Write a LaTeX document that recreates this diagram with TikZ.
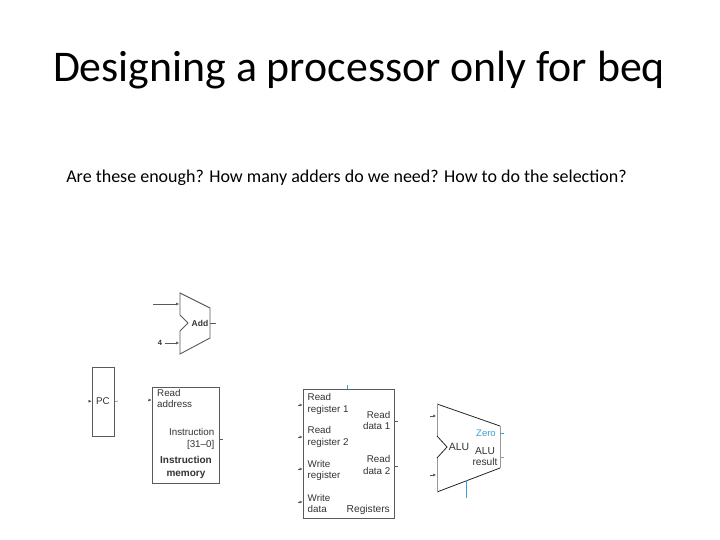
\documentclass[tikz,border=0pt]{standalone}
\usepackage{fontspec}
\setmainfont{Carlito}
\newfontfamily\figfont{Liberation Sans}
\definecolor{ctrlblue}{RGB}{60,160,210}
\definecolor{figgray}{RGB}{90,90,90}
\tikzset{
  block/.style={draw=figgray,fill=white,line width=0.8pt,inner sep=0pt},
  lbl/.style={font=\figfont\fontsize{9.8}{11.8}\selectfont,text=black!80,inner sep=0pt,align=left},
  lblr/.style={lbl,align=right},
  stub/.style={draw=figgray,line width=0.5pt},
  tick/.style={stub,-{Latex[length=3pt,width=3pt]}},
  unit/.style={draw=figgray,line width=0.9pt},
}
\usetikzlibrary{arrows.meta}

\begin{document}
\begin{tikzpicture}[x=1pt,y=-1pt]
\useasboundingbox (0,0) rectangle (720,540);
\fill[white] (0,0) rectangle (720,540);
\node[inner sep=0pt] (title) at (359,70) {\fontsize{43.8}{48}\selectfont Designing a processor only for beq};
\node[inner sep=0pt] (question) at (346.5,178) {\fontsize{18}{22}\selectfont Are these enough? How many adders do we need? How to do the selection?};

% adder
\draw[unit] (180,293) coordinate (addtl) -- (210,308) coordinate (addtr) -- (210,338) coordinate (addbr) -- (180,354) coordinate (addbl)
  -- (180,331) -- (188,323) coordinate (addnotch) -- (180,315) -- cycle;
\node[lbl,font=\figfont\bfseries\fontsize{8.5}{10}\selectfont] (addlabel) at (200,323) {Add};
\node[lbl,font=\figfont\bfseries\fontsize{7.5}{9}\selectfont] (four) at (160,343) {4};
\coordinate (addina) at (153,304);
\coordinate (addinb) at (179,304);
\coordinate (addinc) at (179,343);
\coordinate (addout) at (216,323);
\coordinate (addright) at (210,323);
\draw[tick] (addina) -- (addinb);
\draw[tick] (four) ++(5,0) coordinate (fourend) -- (addinc);
\draw[stub] (addright) -- (addout);

% pc
\node[block,minimum width=22pt,minimum height=69pt] (pc) at (103,401.5) {};
\node[lbl] (pclabel) at (103,401) {PC};
\coordinate (pcin) at (88,401);
\coordinate (pcout) at (118,401);
\draw[tick] (pcin) -- (pc.west);
\draw[stub] (pc.east) -- (pcout);

% instruction memory
\node[block,minimum width=67pt,minimum height=96pt] (imem) at (185.5,435) {};
\node[lbl,anchor=west] (imaddr) at (157,398.5) {Read\\address};
\node[lblr,anchor=east] (iminstr) at (214.5,439) {Instruction\\{[31–0]}};
\node[lbl,align=center,font=\figfont\bfseries\fontsize{10}{12.2}\selectfont] (imname) at (186,467.5) {Instruction\\memory};
\coordinate (imin) at (148,400);
\coordinate (imout) at (223,439);
\draw[tick] (imin) -- (imin-|imem.west);
\draw[stub] (imout-|imem.east) -- (imout);

% registers
\node[block,minimum width=91pt,minimum height=129pt] (regs) at (348.5,453.5) {};
\node[lbl,anchor=west] (rrone) at (307.5,404) {Read\\register 1};
\node[lbl,anchor=west] (rrtwo) at (307.5,437) {Read\\register 2};
\node[lbl,anchor=west] (wreg) at (307.5,470.5) {Write\\register};
\node[lbl,anchor=west] (wdata) at (307.5,503.5) {Write\\data};
\node[lblr,anchor=east] (rdone) at (390.5,420.5) {Read\\data 1};
\node[lblr,anchor=east] (rdtwo) at (390.5,465) {Read\\data 2};
\node[lbl,font=\figfont\fontsize{10.2}{12}\selectfont,anchor=east] (regsname) at (390,510) {Registers};
\foreach \i/\ypos in {a/405,b/437,c/469,d/502} {
  \coordinate (regin\i) at (298,\ypos);
  \draw[tick] (regin\i) -- (regin\i-|regs.west);
}
\coordinate (regoutone) at (398,421);
\coordinate (regouttwo) at (398,466);
\coordinate (regctrl) at (347,385);
\draw[stub] (regoutone-|regs.east) -- (regoutone);
\draw[stub] (regouttwo-|regs.east) -- (regouttwo);
\draw[draw=ctrlblue,line width=0.5pt] (regctrl) -- (regctrl|-regs.north);

% alu
\draw[draw=black!85,line width=0.8pt] (437,404) coordinate (alutl) -- (500,426) coordinate (alutr);
\draw[draw=black!85,line width=0.8pt] (500,468) coordinate (alubr) -- (437,492) coordinate (alubl);
\draw[draw=black!40,line width=0.9pt] (alutr) -- (alubr);
\draw[draw=black!40,line width=0.9pt] (alutl) -- (437,436);
\draw[draw=black!40,line width=0.9pt] (437,458) -- (alubl);
\draw[draw=black!85,line width=0.8pt] (437,436) -- (447,447) coordinate (alunotch) -- (437,458);
\node[lbl,font=\figfont\fontsize{10.5}{12}\selectfont] (alulabel) at (459,447) {ALU};
\node[lbl,text=ctrlblue,font=\figfont\fontsize{9.5}{11}\selectfont] (zero) at (486,433) {Zero};
\node[lbl,align=center,font=\figfont\fontsize{10.2}{11.5}\selectfont] (alures) at (485,456.5) {ALU\\result};
\coordinate (aluina) at (430,416);
\coordinate (aluinb) at (430,475);
\coordinate (alutop) at (436,416);
\coordinate (alubot) at (436,475);
\coordinate (zeroa) at (500,433);
\coordinate (zerob) at (504,433);
\coordinate (resa) at (500,457);
\coordinate (resb) at (504,457);
\coordinate (ctrla) at (466.5,480);
\coordinate (ctrlb) at (466.5,498);
\draw[tick] (aluina) -- (alutop);
\draw[tick] (aluinb) -- (alubot);
\draw[draw=ctrlblue,line width=0.5pt] (zeroa) -- (zerob);
\draw[stub,draw=black!40] (resa) -- (resb);
\draw[draw=ctrlblue,line width=1.6pt] (ctrla) -- (ctrlb);
\end{tikzpicture}
\end{document}
